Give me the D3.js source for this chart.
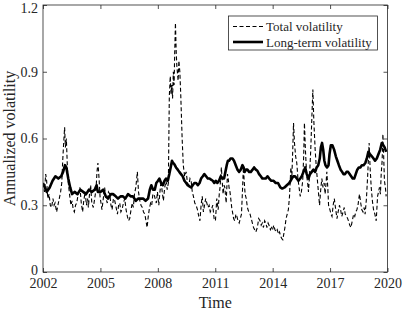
<!DOCTYPE html>
<html>
<head>
<meta charset="utf-8">
<script src="https://cdn.jsdelivr.net/npm/d3@7"></script>
<style>
  body { margin: 0; background: #fff; }
  svg text { font-family: "Liberation Serif", "Times New Roman", serif; fill: #262626; }
</style>
</head>
<body>
<div id="chart"></div>
<script>
// values (decimal year, annualized volatility)
const totalTime = [
  2002.00,2002.08,2002.14,2002.19,2002.25,2002.32,2002.38,2002.45,2002.52,2002.58,2002.63,2002.71,2002.78,2002.85,2002.92,2002.98,
  2003.03,2003.08,2003.13,2003.17,2003.22,2003.27,2003.32,2003.40,2003.46,2003.52,2003.58,2003.64,2003.70,2003.76,2003.84,2003.93,
  2004.00,2004.07,2004.13,2004.20,2004.27,2004.33,2004.37,2004.43,2004.49,2004.55,2004.63,2004.70,2004.77,2004.82,2004.87,2004.93,2004.98,
  2005.08,2005.15,2005.22,2005.29,2005.36,2005.42,2005.49,2005.55,2005.61,2005.68,2005.75,2005.82,2005.89,2005.95,
  2006.01,2006.07,2006.13,2006.20,2006.27,2006.34,2006.41,2006.47,2006.53,2006.60,2006.66,2006.72,2006.78,2006.85,2006.93,2006.99,
  2007.06,2007.12,2007.19,2007.25,2007.32,2007.38,2007.44,2007.50,2007.55,2007.62,2007.68,2007.74,2007.80,2007.86,2007.92,2007.98,
  2008.05,2008.11,2008.17,2008.23,2008.29,2008.36,2008.43,2008.49,2008.55,2008.60,2008.65,2008.69,2008.73,2008.77,2008.81,2008.85,2008.88,2008.92,2008.96,2008.99,
  2009.03,2009.06,2009.10,2009.15,2009.20,2009.27,2009.33,2009.40,2009.48,2009.55,2009.62,2009.68,2009.74,2009.80,2009.86,2009.93,
  2010.00,2010.07,2010.14,2010.20,2010.26,2010.32,2010.38,2010.44,2010.50,2010.56,2010.62,2010.68,2010.74,2010.80,2010.87,2010.94,
  2011.01,2011.08,2011.15,2011.21,2011.25,2011.32,2011.37,2011.41,2011.46,2011.50,2011.57,2011.61,2011.64,2011.69,2011.72,2011.77,2011.81,2011.86,2011.90,2011.96,
  2012.02,2012.08,2012.13,2012.19,2012.25,2012.31,2012.37,2012.42,2012.47,2012.52,2012.56,2012.62,2012.68,2012.75,2012.82,2012.88,2012.94,
  2013.00,2013.06,2013.12,2013.20,2013.27,2013.34,2013.40,2013.46,2013.52,2013.58,2013.64,2013.70,2013.76,2013.81,2013.88,2013.94,2013.99,
  2014.06,2014.12,2014.18,2014.24,2014.30,2014.36,2014.42,2014.48,2014.53,2014.58,2014.64,2014.70,2014.76,2014.82,2014.88,2014.95,
  2015.00,2015.05,2015.09,2015.14,2015.20,2015.26,2015.32,2015.38,2015.44,2015.50,2015.57,2015.62,2015.66,2015.71,2015.78,2015.83,2015.87,2015.93,2015.99,
  2016.05,2016.10,2016.15,2016.22,2016.28,2016.34,2016.40,2016.45,2016.51,2016.57,2016.63,2016.69,2016.74,2016.79,2016.83,2016.88,2016.92,2016.99,
  2017.05,2017.10,2017.16,2017.22,2017.28,2017.36,2017.42,2017.49,2017.55,2017.61,2017.68,2017.74,2017.79,2017.86,2017.92,2017.96,
  2018.03,2018.09,2018.16,2018.23,2018.29,2018.34,2018.40,2018.46,2018.50,2018.54,2018.60,2018.66,2018.72,2018.78,2018.83,2018.90,2018.95,
  2019.00,2019.04,2019.09,2019.15,2019.21,2019.27,2019.34,2019.41,2019.48,2019.53,2019.58,2019.63,2019.67,2019.72,2019.76,2019.80,2019.84,2019.89,2019.93
];
const totalVol = [
  0.40,0.36,0.44,0.41,0.33,0.35,0.30,0.29,0.33,0.30,0.31,0.27,0.30,0.33,0.36,0.40,
  0.50,0.58,0.65,0.56,0.60,0.48,0.40,0.34,0.30,0.32,0.28,0.27,0.30,0.31,0.35,0.38,
  0.31,0.27,0.32,0.36,0.30,0.33,0.29,0.35,0.39,0.31,0.29,0.33,0.37,0.45,0.49,0.42,0.34,
  0.28,0.33,0.38,0.33,0.31,0.36,0.35,0.30,0.28,0.33,0.32,0.29,0.26,0.30,
  0.31,0.27,0.28,0.31,0.33,0.28,0.25,0.23,0.24,0.28,0.31,0.29,0.35,0.38,0.45,0.36,
  0.32,0.30,0.29,0.27,0.26,0.23,0.20,0.25,0.28,0.31,0.30,0.35,0.35,0.33,0.31,0.36,
  0.30,0.36,0.41,0.36,0.32,0.38,0.41,0.37,0.40,0.79,0.88,0.80,0.84,0.78,0.90,0.84,0.98,1.12,0.99,0.93,
  0.89,0.86,0.95,0.90,0.79,0.60,0.48,0.43,0.45,0.40,0.39,0.42,0.41,0.36,0.34,0.31,
  0.30,0.28,0.25,0.23,0.30,0.34,0.27,0.30,0.33,0.31,0.29,0.30,0.27,0.28,0.30,0.24,
  0.23,0.33,0.28,0.35,0.38,0.47,0.40,0.35,0.39,0.38,0.31,0.39,0.44,0.41,0.38,0.36,0.33,0.29,0.27,0.24,
  0.23,0.26,0.25,0.23,0.22,0.24,0.26,0.36,0.47,0.40,0.35,0.33,0.29,0.27,0.26,0.24,0.22,
  0.20,0.19,0.18,0.20,0.24,0.23,0.21,0.22,0.20,0.23,0.22,0.20,0.22,0.21,0.19,0.20,0.19,
  0.21,0.19,0.18,0.19,0.17,0.18,0.16,0.15,0.145,0.17,0.20,0.24,0.26,0.28,0.34,0.47,
  0.42,0.55,0.67,0.58,0.52,0.49,0.42,0.38,0.34,0.36,0.41,0.52,0.67,0.55,0.43,0.40,0.36,0.44,0.55,
  0.70,0.82,0.68,0.55,0.47,0.41,0.35,0.30,0.37,0.42,0.38,0.40,0.35,0.40,0.45,0.38,0.30,0.28,
  0.26,0.25,0.30,0.33,0.29,0.24,0.27,0.30,0.28,0.25,0.27,0.29,0.26,0.25,0.24,0.23,
  0.21,0.20,0.23,0.26,0.25,0.27,0.28,0.30,0.33,0.35,0.31,0.28,0.27,0.29,0.26,0.33,0.41,
  0.50,0.58,0.47,0.38,0.32,0.28,0.26,0.23,0.34,0.36,0.38,0.35,0.44,0.50,0.62,0.52,0.41,0.38,0.34
];
const longTime = [
  2002.00,2002.10,2002.20,2002.35,2002.50,2002.65,2002.80,2002.95,2003.05,2003.15,2003.22,2003.32,2003.42,2003.52,2003.65,2003.80,2003.95,
  2004.10,2004.25,2004.40,2004.55,2004.70,2004.80,2004.87,2005.00,2005.14,2005.28,2005.40,2005.55,2005.66,2005.80,2005.92,
  2006.05,2006.18,2006.30,2006.44,2006.58,2006.70,2006.85,2006.97,2007.10,2007.23,2007.36,2007.49,2007.58,2007.66,2007.75,2007.84,2007.92,
  2008.01,2008.08,2008.17,2008.26,2008.35,2008.43,2008.52,2008.60,2008.67,2008.74,2008.80,2008.86,2008.95,
  2009.04,2009.12,2009.21,2009.30,2009.39,2009.48,2009.56,2009.65,2009.74,2009.82,2009.91,
  2010.00,2010.09,2010.18,2010.26,2010.35,2010.43,2010.52,2010.61,2010.70,2010.78,2010.87,2010.95,
  2011.03,2011.11,2011.20,2011.29,2011.38,2011.46,2011.53,2011.60,2011.66,2011.72,2011.80,2011.90,2011.98,
  2012.07,2012.16,2012.25,2012.33,2012.42,2012.48,2012.54,2012.61,2012.68,2012.77,2012.86,2012.95,
  2013.03,2013.12,2013.20,2013.29,2013.38,2013.46,2013.55,2013.64,2013.73,2013.82,2013.93,
  2014.05,2014.16,2014.28,2014.40,2014.50,2014.62,2014.74,2014.87,
  2015.00,2015.08,2015.17,2015.26,2015.35,2015.44,2015.52,2015.61,2015.70,2015.78,2015.87,2015.95,
  2016.04,2016.13,2016.22,2016.30,2016.38,2016.46,2016.52,2016.58,2016.64,2016.70,2016.76,2016.84,2016.92,2016.97,
  2017.04,2017.12,2017.21,2017.30,2017.38,2017.46,2017.55,2017.63,2017.70,2017.78,2017.86,2017.94,
  2018.02,2018.10,2018.18,2018.26,2018.34,2018.42,2018.50,2018.58,2018.66,2018.75,2018.84,2018.92,
  2019.00,2019.08,2019.18,2019.27,2019.35,2019.44,2019.53,2019.62,2019.70,2019.78,2019.85,2019.93
];
const longVol = [
  0.40,0.38,0.36,0.38,0.41,0.43,0.42,0.43,0.45,0.48,0.47,0.42,0.38,0.35,0.36,0.35,0.37,
  0.36,0.35,0.37,0.36,0.37,0.39,0.36,0.36,0.37,0.34,0.33,0.35,0.35,0.34,0.33,
  0.34,0.34,0.33,0.35,0.34,0.34,0.32,0.33,0.33,0.33,0.32,0.33,0.37,0.39,0.37,0.37,0.40,
  0.41,0.42,0.40,0.39,0.41,0.42,0.41,0.44,0.47,0.50,0.49,0.485,0.47,
  0.46,0.45,0.44,0.43,0.41,0.40,0.39,0.385,0.38,0.39,0.40,
  0.40,0.39,0.40,0.42,0.43,0.44,0.43,0.42,0.42,0.415,0.41,0.40,
  0.41,0.40,0.41,0.43,0.42,0.42,0.45,0.48,0.50,0.50,0.51,0.51,0.50,
  0.48,0.46,0.45,0.46,0.48,0.47,0.45,0.46,0.46,0.45,0.45,0.46,
  0.47,0.46,0.455,0.44,0.43,0.42,0.42,0.42,0.43,0.42,0.41,
  0.41,0.40,0.40,0.38,0.375,0.38,0.39,0.40,
  0.42,0.43,0.43,0.42,0.41,0.42,0.43,0.45,0.47,0.44,0.42,0.44,
  0.45,0.46,0.45,0.47,0.48,0.51,0.56,0.58,0.55,0.50,0.48,0.47,0.48,0.53,
  0.57,0.57,0.55,0.52,0.50,0.48,0.46,0.45,0.44,0.44,0.45,0.45,
  0.44,0.43,0.42,0.42,0.44,0.46,0.47,0.47,0.48,0.48,0.49,0.51,
  0.54,0.53,0.52,0.51,0.50,0.51,0.53,0.55,0.58,0.57,0.56,0.54
];
const xTicks = [2002, 2005, 2008, 2011, 2014, 2017, 2020];
const yTicks = [0, 0.3, 0.6, 0.9, 1.2];
const legendLabels = ["Total volatility", "Long-term volatility"];

const width = 407, height = 312;
const margin = {left: 43, right: 19.5, top: 5, bottom: 40};
const innerW = width - margin.left - margin.right;
const innerH = height - margin.top - margin.bottom;
const axisColor = "#262626";

const svg = d3.select("#chart").append("svg")
  .attr("width", width)
  .attr("height", height);

const g = svg.append("g")
  .attr("transform", `translate(${margin.left},${margin.top})`);

const x = d3.scaleLinear().domain([2002, 2020]).range([0, innerW]);
const y = d3.scaleLinear().domain([0, 1.2]).range([innerH, 0]);

g.append("rect")
  .attr("width", innerW)
  .attr("height", innerH)
  .attr("fill", "#fff");

g.append("clipPath").attr("id", "clip")
  .append("rect").attr("width", innerW).attr("height", innerH);

const totalData = totalTime.map((t, i) => [t, totalVol[i]]);
const longData = longTime.map((t, i) => [t, longVol[i]]);
const line = d3.line().x(d => x(d[0])).y(d => y(d[1]));

g.append("path")
  .datum(totalData)
  .attr("clip-path", "url(#clip)")
  .attr("fill", "none")
  .attr("stroke", "#000")
  .attr("stroke-width", 1.1)
  .attr("stroke-dasharray", "4,2.5")
  .attr("d", line);

g.append("path")
  .datum(longData)
  .attr("clip-path", "url(#clip)")
  .attr("fill", "none")
  .attr("stroke", "#000")
  .attr("stroke-width", 2.6)
  .attr("stroke-linejoin", "round")
  .attr("d", line);

// axes, ticks pointing inward on all four sides
const fmt = d => d === 0 ? "0" : d3.format(".1f")(d);
const axBottom = g.append("g")
  .attr("transform", `translate(0,${innerH})`)
  .call(d3.axisBottom(x).tickValues(xTicks).tickFormat(d3.format("d")).tickSizeInner(-4).tickSizeOuter(0).tickPadding(6));
const axLeft = g.append("g")
  .call(d3.axisLeft(y).tickValues(yTicks).tickFormat(fmt).tickSizeInner(-4).tickSizeOuter(0).tickPadding(5));
const axTop = g.append("g")
  .call(d3.axisTop(x).tickValues(xTicks).tickFormat("").tickSizeInner(-4).tickSizeOuter(0));
const axRight = g.append("g")
  .attr("transform", `translate(${innerW},0)`)
  .call(d3.axisRight(y).tickValues(yTicks).tickFormat("").tickSizeInner(-4).tickSizeOuter(0));

[axBottom, axLeft, axTop, axRight].forEach(a => {
  a.select(".domain").remove();
  a.selectAll("line").attr("stroke", axisColor).attr("stroke-width", 0.8);
  a.selectAll("text").style("font-size", "14px").attr("fill", axisColor);
});
// top label sits a little lower and the zero label a little higher, as in the picture
axLeft.selectAll(".tick text").filter(d => d === 1.2).attr("dy", "0.55em");
axLeft.selectAll(".tick text").filter(d => d === 0).attr("dy", "0.2em");

g.append("rect")
  .attr("width", innerW)
  .attr("height", innerH)
  .attr("fill", "none")
  .attr("stroke", axisColor)
  .attr("stroke-width", 0.8);

svg.append("text")
  .attr("x", margin.left + innerW / 2)
  .attr("y", 308)
  .attr("text-anchor", "middle")
  .style("font-size", "16px")
  .text("Time");

svg.append("text")
  .attr("transform", `translate(14.5,${margin.top + innerH / 2}) rotate(-90)`)
  .attr("text-anchor", "middle")
  .style("font-size", "16px")
  .text("Annualized volatility");

// legend
const legend = svg.append("g").attr("transform", "translate(228.5,16)");
legend.append("rect")
  .attr("width", 149)
  .attr("height", 34)
  .attr("fill", "#fff")
  .attr("stroke", axisColor)
  .attr("stroke-width", 0.8);

legendLabels.forEach((label, i) => {
  const ly = 10.5 + i * 15.5;
  legend.append("line")
    .attr("x1", 4.5).attr("x2", 34.5)
    .attr("y1", ly).attr("y2", ly)
    .attr("stroke", "#000")
    .attr("stroke-width", i === 0 ? 1.1 : 2.6)
    .attr("stroke-dasharray", i === 0 ? "4,2.5" : null);
  legend.append("text")
    .attr("x", 37.5)
    .attr("y", ly)
    .attr("dy", "0.35em")
    .style("font-size", "13px")
    .text(label);
});
</script>
</body>
</html>
